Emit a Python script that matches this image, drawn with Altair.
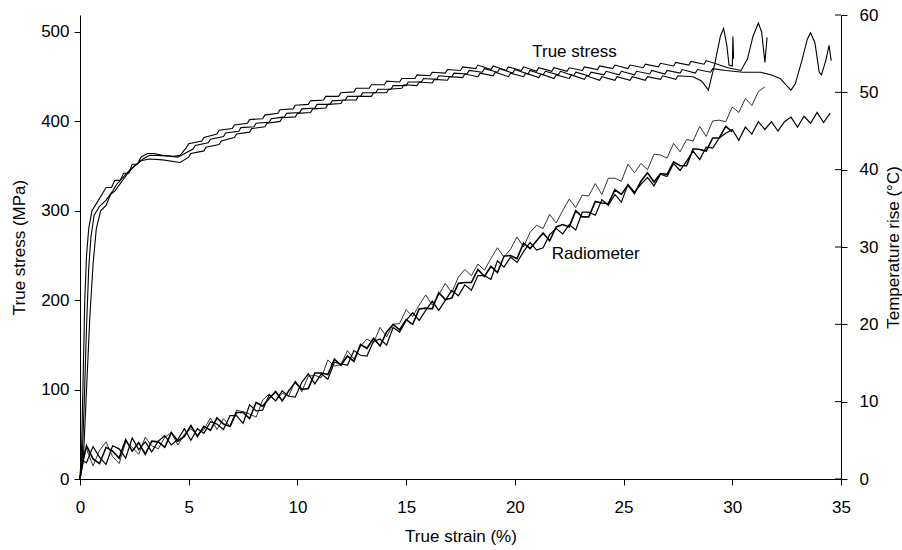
import altair as alt
import pandas as pd

# ---------------- stress curves (left axis) ----------------
s1_strain = [0.0, 0.08, 0.15, 0.22, 0.3, 0.4, 0.55, 0.75, 1.0, 1.2, 1.45, 1.6, 1.85, 2.0, 2.25, 2.4, 2.65, 2.8, 3.1, 3.4, 3.8, 4.3, 4.6,
             4.9, 5.0, 5.6, 5.7, 6.3, 6.4, 7.0, 7.1, 7.7, 7.8, 8.4, 8.5, 9.1, 9.2, 9.8, 9.9, 10.5, 10.6, 11.2, 11.3, 11.9, 12.0,
             12.6, 12.7, 13.3, 13.4, 14.0, 14.1, 14.7, 14.8, 15.4, 15.5, 16.1, 16.2, 16.8, 16.9, 17.5, 17.6, 18.2, 18.3,
             18.9, 19.0, 19.6, 19.7, 20.3, 20.4, 21.0, 21.1, 21.7, 21.8, 22.4, 22.5, 23.1, 23.2, 23.8, 23.9, 24.5, 24.6,
             25.2, 25.3, 25.9, 26.0, 26.6, 26.7, 27.3, 27.4, 28.0, 28.1, 28.7, 28.8,
             29.8, 30.4, 30.7, 30.95, 31.2, 31.35, 31.5, 31.6]
s1_stress = [0, 40, 120, 200, 250, 280, 300, 308, 318, 326, 326, 334, 334, 342, 342, 352, 352, 360, 364, 364, 362, 361, 362,
             371, 375, 378, 382, 386, 390, 392, 396, 398, 402, 403, 407, 409, 413, 414, 418, 419, 423, 424, 428, 428, 432,
             433, 437, 437, 441, 441, 445, 444, 448, 448, 452, 451, 455, 454, 458, 457, 461, 459, 463,
             458, 462, 457, 461, 457, 461, 456, 460, 456, 460, 456, 460, 457, 461, 458, 462, 459, 463,
             459, 463, 460, 464, 461, 465, 462, 466, 463, 467, 464, 468,
             460, 457, 470, 495, 510, 500, 466, 494]

s2_strain = [0.0, 0.1, 0.2, 0.3, 0.4, 0.5, 0.65, 0.9, 1.2, 1.5, 1.7, 2.0, 2.3, 2.6, 2.9, 3.2, 3.6, 4.1, 4.5,
             5.2, 5.3, 5.9, 6.0, 6.6, 6.7, 7.3, 7.4, 8.0, 8.1, 8.7, 8.8, 9.4, 9.5, 10.1, 10.2, 10.8, 10.9, 11.5, 11.6,
             12.2, 12.3, 12.9, 13.0, 13.6, 13.7, 14.3, 14.4, 15.0, 15.1, 15.7, 15.8, 16.4, 16.5, 17.1, 17.2, 17.8, 17.9,
             18.5, 18.6, 19.2, 19.3, 19.9, 20.0, 20.6, 20.7, 21.3, 21.4, 22.0, 22.1, 22.7, 22.8, 23.4, 23.5, 24.1, 24.2,
             24.8, 24.9, 25.5, 25.6, 26.2, 26.3, 26.9, 27.0, 27.6, 27.7, 28.3, 28.4, 29.0, 29.1,
             29.7, 30.5, 31.3, 31.8, 32.2, 32.5, 32.7, 32.9, 33.2, 33.45, 33.6, 33.8, 34.0, 34.1, 34.3, 34.45, 34.5, 34.55]
s2_stress = [0, 20, 90, 170, 235, 270, 295, 305, 312, 322, 330, 338, 346, 352, 358, 362, 362, 361, 360,
             369, 373, 376, 380, 383, 387, 389, 393, 394, 398, 399, 403, 405, 409, 410, 414, 415, 419, 419, 423,
             424, 428, 428, 432, 432, 436, 436, 440, 440, 444, 444, 448, 447, 451, 450, 454, 453, 457,
             455, 459, 455, 459, 454, 458, 453, 457, 452, 456, 452, 456, 451, 455, 451, 455, 452, 456,
             452, 456, 452, 456, 453, 457, 453, 457, 454, 458, 454, 458, 455, 459,
             457, 455, 455, 452, 448, 440, 435, 442, 468, 492, 499, 488, 455, 452, 468, 485, 476, 468]

s3_strain = [0.0, 0.15, 0.3, 0.45, 0.6, 0.75, 0.95, 1.2, 1.4, 1.6, 1.9, 2.2, 2.5, 2.8, 3.2, 3.8, 4.6,
             5.0, 5.1, 5.7, 5.8, 6.4, 6.5, 7.1, 7.2, 7.8, 7.9, 8.5, 8.6, 9.2, 9.3, 9.9, 10.0, 10.6, 10.7, 11.3, 11.4,
             12.0, 12.1, 12.7, 12.8, 13.4, 13.5, 14.1, 14.2, 14.8, 14.9, 15.5, 15.6, 16.2, 16.3, 16.9, 17.0, 17.6, 17.7,
             18.3, 18.4, 19.0, 19.1, 19.7, 19.8, 20.4, 20.5, 21.1, 21.2, 21.8, 21.9, 22.5, 22.6, 23.2, 23.3, 23.9, 24.0,
             24.6, 24.7, 25.3, 25.4, 26.0, 26.1, 26.7, 26.8, 27.4, 27.5,
             28.2, 28.6, 28.9, 29.2, 29.45, 29.6, 29.75, 29.85, 30.0, 30.03, 30.06]
s3_stress = [0, 20, 100, 180, 240, 280, 300, 306, 318, 322, 332, 342, 350, 356, 358, 357, 354,
             360, 364, 367, 371, 374, 378, 382, 386, 388, 392, 394, 398, 400, 404, 405, 409, 410, 414, 415, 419,
             420, 424, 424, 428, 428, 432, 432, 436, 437, 441, 440, 444, 443, 447, 446, 450, 449, 453,
             450, 454, 451, 455, 450, 454, 450, 454, 449, 453, 448, 452, 448, 452, 447, 451, 446, 450,
             446, 450, 446, 450, 446, 450, 447, 451, 447, 451,
             450, 445, 435, 465, 495, 504, 485, 463, 462, 495, 470]

# ---------------- temperature curves (right axis) ----------------
temp_strain = [0.0, 0.1, 0.3, 0.6, 0.9, 1.2, 1.5, 1.8, 2.1, 2.4, 2.7, 3.0, 3.3, 3.6, 3.9, 4.2, 4.5, 4.8, 5.1, 5.4,
               5.7, 6.0, 6.3, 6.6, 6.9, 7.2, 7.5, 7.8, 8.1, 8.4, 8.7, 9.0, 9.3, 9.6, 9.9, 10.2, 10.5, 10.8, 11.1,
               11.4, 11.7, 12.0, 12.3, 12.6, 12.9, 13.2, 13.5, 13.8, 14.1, 14.4, 14.7, 15.0, 15.3, 15.6, 15.9,
               16.2, 16.5, 16.8, 17.1, 17.4, 17.7, 18.0, 18.3, 18.6, 18.9, 19.2, 19.5, 19.8, 20.1, 20.4, 20.7,
               21.0, 21.3, 21.6, 21.9, 22.2, 22.5, 22.8, 23.1, 23.4, 23.7, 24.0, 24.3, 24.6, 24.9, 25.2, 25.5,
               25.8, 26.1, 26.4, 26.7, 27.0, 27.3, 27.6, 27.9, 28.2, 28.5, 28.8, 29.1, 29.4, 29.7, 30.0, 30.3,
               30.6, 30.9, 31.2, 31.5, 31.8, 32.1, 32.4, 32.7, 33.0, 33.3, 33.6, 33.9, 34.2, 34.5]

temp1 = [0.3, 3.4,
         3.9, 1.7, 3.7, 4.8, 2.9, 2.0, 4.8, 4.1, 3.2, 5.4,
         4.3, 3.9, 5.4, 6.0, 4.4, 5.8, 6.5, 5.7, 6.4, 7.9,
         6.4, 7.8, 6.8, 8.9, 8.7, 8.4, 8.0, 10.2, 11.0, 10.1,
         11.1, 10.7, 12.7, 11.3, 13.3, 13.4, 13.1, 15.4, 14.6, 14.8,
         16.6, 15.5, 17.2, 18.1, 17.6, 19.6, 18.4, 20.0, 20.1, 21.9,
         21.0, 22.5, 23.8, 22.5, 23.8, 25.3, 24.1, 26.1, 27.1, 26.3,
         27.8, 27.0, 28.5, 29.9, 28.7, 29.7, 31.3, 30.0, 31.9, 32.8,
         32.4, 34.2, 33.1, 34.7, 36.2, 35.1, 36.7, 36.6, 38.2, 36.8,
         38.9, 38.9, 38.5, 40.7, 39.6, 40.8, 40.0, 42.0, 41.9, 41.5,
         43.4, 42.3, 43.9, 43.7, 45.6, 44.3, 46.3, 46.4, 46.2, 48.1,
         47.4, 49.2, 48.3, 50.1, 50.7]

temp2 = [0.0, 2.4,
         2.1, 4.2, 2.8, 1.9, 4.3, 3.9, 2.7, 5.3, 3.8, 4.8,
         3.5, 4.9, 5.6, 4.4, 5.1, 6.5, 5.0, 6.5, 5.9, 7.4,
         7.1, 6.4, 8.2, 8.2, 7.2, 9.6, 8.8, 8.9, 10.9, 10.1,
         11.4, 10.7, 10.6, 12.5, 13.6, 12.3, 13.6, 12.9, 15.1, 14.9,
         14.7, 16.6, 16.0, 15.9, 17.8, 18.1, 17.3, 19.6, 19.0, 20.5,
         21.5, 20.5, 21.8, 23.0, 21.8, 23.1, 24.4, 23.7, 25.1, 24.4,
         26.3, 26.3, 25.8, 28.2, 27.4, 28.7, 28.0, 29.4, 30.6, 29.6,
         29.9, 31.6, 32.4, 31.7, 32.9, 32.2, 34.5, 34.5, 34.1, 36.1,
         35.4, 36.8, 35.8, 38.1, 37.1, 38.1, 39.0, 37.9, 39.4, 39.1,
         40.8, 39.9, 41.1, 42.4, 41.3, 42.9, 42.8, 44.1, 44.7, 45.2,
         43.8, 45.5, 44.6, 46.2, 45.2, 46.2, 45.0, 46.2, 46.8, 45.5,
         46.9, 46.0, 47.4, 46.1, 47.3]

temp3 = [0.0, 1.8,
         4.3, 2.6, 2.0, 4.1, 3.6, 2.7, 5.1, 3.6, 4.7, 3.2,
         4.9, 4.8, 4.1, 6.0, 4.9, 5.5, 6.9, 5.5, 6.8, 6.3,
         7.9, 7.1, 6.8, 8.6, 8.6, 7.8, 9.9, 9.4, 10.4, 11.3,
         10.1, 11.4, 12.5, 11.6, 11.7, 13.7, 13.7, 13.5, 15.5, 14.7,
         15.9, 15.2, 17.4, 16.9, 18.2, 17.2, 19.0, 20.0, 19.3, 20.6,
         20.0, 22.0, 22.1, 22.0, 24.1, 23.2, 23.4, 25.3, 25.4, 25.4,
         27.1, 26.2, 27.5, 26.7, 28.8, 28.9, 28.5, 30.5, 29.8, 30.8,
         31.8, 30.8, 32.6, 32.9, 32.6, 34.7, 33.9, 33.9, 35.9, 35.7,
         35.6, 37.4, 36.8, 38.0, 36.9, 38.5, 39.6, 38.4, 39.5, 39.4,
         41.0, 40.5, 40.5, 42.7, 42.6, 42.4, 44.1, 44.1, 45.6, 44.9]

x_ticks = [0, 5, 10, 15, 20, 25, 30, 35]
stress_ticks = [0, 100, 200, 300, 400, 500]
temp_ticks = [0, 10, 20, 30, 40, 50, 60]

stress_label = ["True stress"]
stress_label_pos = [20.8, 478]
temp_label = ["Radiometer"]
temp_label_pos = [21.7, 29.1]

# ---------------- build tables ----------------
def series_df(xs, ys, name, ycol):
    return pd.DataFrame({"strain": xs, ycol: ys, "series": name, "order": list(range(len(xs)))})

stress_df = pd.concat([
    series_df(s1_strain, s1_stress, "S1", "stress"),
    series_df(s2_strain, s2_stress, "S2", "stress"),
    series_df(s3_strain, s3_stress, "S3", "stress"),
])
temp_df = pd.concat([
    series_df(temp_strain[:len(temp1)], temp1, "T1", "temp"),
    series_df(temp_strain[:len(temp2)], temp2, "T2", "temp"),
    series_df(temp_strain[:len(temp3)], temp3, "T3", "temp"),
])
stress_text_df = pd.DataFrame({"strain": [stress_label_pos[0]], "stress": [stress_label_pos[1]], "label": stress_label})
temp_text_df = pd.DataFrame({"strain": [temp_label_pos[0]], "temp": [temp_label_pos[1]], "label": temp_label})
temp_tick_df = pd.DataFrame({"temp": temp_ticks})

FONT = "Liberation Sans"
FS = 17
W, H = 761, 464


def x_enc():
    return alt.X("strain:Q", scale=alt.Scale(domain=[0, 35], nice=False, zero=False),
                 axis=alt.Axis(values=x_ticks, title="True strain (%)", tickSize=6, labelPadding=14,
                               titlePadding=13, format="d", labelFlush=False))


def y_stress():
    return alt.Y("stress:Q", scale=alt.Scale(domain=[0, 519], nice=False),
                 axis=alt.Axis(values=stress_ticks, title="True stress (MPa)", tickSize=6,
                               labelPadding=5, titlePadding=12, orient="left", labelFlush=False))


def y_temp():
    return alt.Y("temp:Q", scale=alt.Scale(domain=[0, 60], nice=False),
                  axis=alt.Axis(values=temp_ticks, title="Temperature rise (°C)", tickSize=6,
                                labelPadding=12, titlePadding=25, orient="right", titleAngle=270,
                                labelFlush=False))


stress_lines = alt.Chart(stress_df).mark_line(color="black", strokeWidth=1.1).encode(
    x=x_enc(), y=y_stress(), detail="series:N", order="order:Q")
stress_text = alt.Chart(stress_text_df).mark_text(
    align="left", baseline="middle", font=FONT, fontSize=FS, color="black").encode(
    x=x_enc(), y=y_stress(), text="label:N")

temp_lines = alt.Chart(temp_df).mark_line(color="black", strokeJoin="miter").encode(
    x=x_enc(), y=y_temp(), detail="series:N", order="order:Q",
    strokeWidth=alt.StrokeWidth("series:N", scale=alt.Scale(domain=["T1", "T2", "T3"], range=[0.8, 1.6, 1.1]),
                                legend=None))
temp_text = alt.Chart(temp_text_df).mark_text(
    align="left", baseline="middle", font=FONT, fontSize=FS, color="black").encode(
    x=x_enc(), y=y_temp(), text="label:N")
temp_inner_ticks = alt.Chart(temp_tick_df).mark_rule(color="black", strokeWidth=1).encode(
    x=alt.value(W - 6), x2=alt.value(W), y=y_temp())

left = alt.layer(stress_lines, stress_text)
right = alt.layer(temp_lines, temp_text, temp_inner_ticks)

chart = alt.layer(left, right).resolve_scale(y="independent").properties(
    width=W, height=H,
    padding={"left": 80, "top": 15, "right": 61, "bottom": 71},
    autosize=alt.AutoSizeParams(type="none"),
).configure_view(stroke=None).configure_axis(
    grid=False, domainColor="black", tickColor="black", labelColor="black", titleColor="black",
    labelFont=FONT, titleFont=FONT, labelFontSize=FS, titleFontSize=FS, titleFontWeight="normal",
    domainWidth=1, tickWidth=1,
)

chart.save("out.html", embed_options={"renderer": "svg", "actions": False})
